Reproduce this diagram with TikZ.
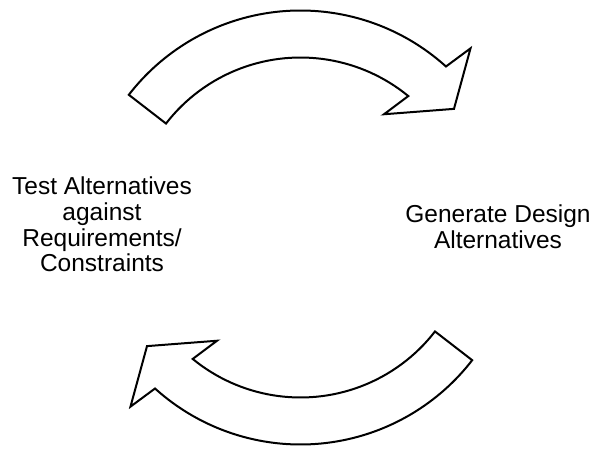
\documentclass[tikz,border=0pt]{standalone}
\usepackage{fontspec}
\setmainfont{Liberation Sans}
\begin{document}
\begin{tikzpicture}[x=1pt,y=1pt,
  blockarrow/.style={draw=black,fill=white,line width=2pt,line join=miter},
  label/.style={align=center,inner sep=0pt,font=\fontsize{24.5}{25.8}\selectfont}]
\useasboundingbox (0,0) rectangle (598,448);
\coordinate (c) at (300.5,220.5);
% curved block arrow from the left label over the top to the right label
\begin{scope}[shift={(c)}]
  \draw[blockarrow] (142.3:217) arc[start angle=142.3,end angle=47.9,radius=217]
    -- (46.5:247) -- (37.7:194) -- (53.6:140.7) -- (50.65:170)
    arc[start angle=50.65,end angle=142.3,radius=170] -- cycle;
  % the same arrow turned half round, from the right label under the bottom
  \begin{scope}[rotate=180]
  \draw[blockarrow] (142.3:217) arc[start angle=142.3,end angle=47.9,radius=217]
    -- (46.5:247) -- (37.7:194) -- (53.6:140.7) -- (50.65:170)
    arc[start angle=50.65,end angle=142.3,radius=170] -- cycle;
  \end{scope}
\end{scope}
\node[label] (test) at (102,223.5) {Test Alternatives\\against\\Requirements/\\Constraints};
\node[label] (generate) at (498,221.4) {Generate Design\\Alternatives};
\end{tikzpicture}
\end{document}
